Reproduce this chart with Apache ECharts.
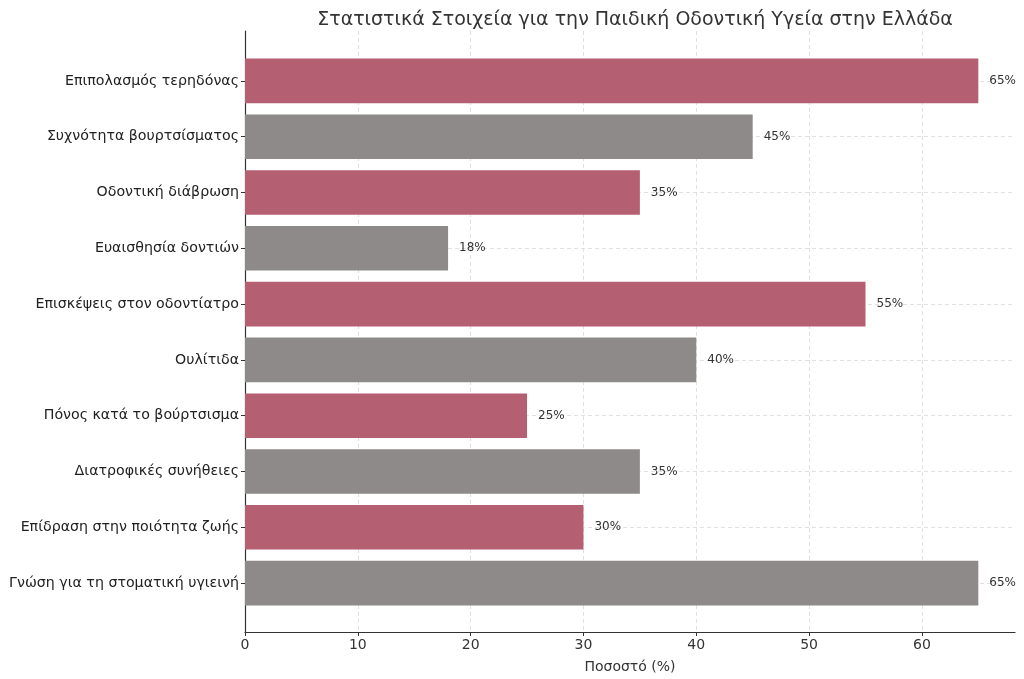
<!DOCTYPE html>
<html><head><meta charset="utf-8">
<script src="https://cdn.jsdelivr.net/npm/echarts@6/dist/echarts.min.js"></script>
<style>html,body{margin:0;padding:0;background:#fff}#c{width:1024px;height:679px}</style>
</head><body><div id="c"></div>
<script>
const categories = [
  'Επιπολασμός τερηδόνας',
  'Συχνότητα βουρτσίσματος',
  'Οδοντική διάβρωση',
  'Ευαισθησία δοντιών',
  'Επισκέψεις στον οδοντίατρο',
  'Ουλίτιδα',
  'Πόνος κατά το βούρτσισμα',
  'Διατροφικές συνήθειες',
  'Επίδραση στην ποιότητα ζωής',
  'Γνώση για τη στοματική υγιεινή'
];
const values = [65, 45, 35, 18, 55, 40, 25, 35, 30, 65];
const barColors = ['#b55f72', '#8f8a8a'];
const xTicks = [0, 10, 20, 30, 40, 50, 60];

const font = 'DejaVu Sans';
const xMax = 68.25;
const chart = echarts.init(document.getElementById('c'));
const grid = {left: 245, right: 9};
chart.setOption({
  animation: false,
  textStyle: {fontFamily: font},
  title: {
    text: 'Στατιστικά Στοιχεία για την Παιδική Οδοντική Υγεία στην Ελλάδα',
    left: 630, textAlign: 'center', top: 6,
    textStyle: {fontFamily: font, fontSize: 19, fontWeight: 'normal', color: '#333'}
  },
  grid: [
    {left: grid.left, right: grid.right, top: 31, bottom: 46},
    {left: grid.left, right: grid.right, top: 53, bottom: 68}
  ],
  xAxis: [
    {
      gridIndex: 0, type: 'value', min: 0, max: xMax, interval: 10,
      name: 'Ποσοστό (%)', nameLocation: 'middle', nameGap: 28,
      nameTextStyle: {fontFamily: font, fontSize: 14, color: '#333'},
      axisLine: {show: true, lineStyle: {color: '#333', width: 1.2}},
      axisTick: {show: true, length: 4, lineStyle: {color: '#333'},
        customValues: xTicks},
      axisLabel: {fontFamily: font, fontSize: 14, color: '#333', margin: 6,
        customValues: xTicks,
        formatter: v => (xTicks.indexOf(v) >= 0 ? String(v) : '')},
      splitLine: {show: true, lineStyle: {color: '#d9d9d9', type: [4, 3], width: 0.8}}
    },
    {
      gridIndex: 1, type: 'value', min: 0, max: xMax,
      axisLine: {show: false}, axisTick: {show: false}, axisLabel: {show: false}, splitLine: {show: false}
    }
  ],
  yAxis: [
    {
      gridIndex: 0, type: 'value', min: 0, max: 1,
      axisLine: {show: true, lineStyle: {color: '#333', width: 1.2}},
      axisTick: {show: false}, axisLabel: {show: false}, splitLine: {show: false}
    },
    {
      gridIndex: 1, type: 'category', data: categories, inverse: true,
      axisLine: {show: false},
      axisTick: {show: true, alignWithLabel: true, length: 4, lineStyle: {color: '#333'}},
      axisLabel: {fontFamily: font, fontSize: 14.2, color: '#222', margin: 6},
      splitLine: {show: true, alignWithLabel: true, lineStyle: {color: '#d9d9d9', type: [4, 3], width: 0.8}}
    }
  ],
  series: [{
    type: 'bar', xAxisIndex: 1, yAxisIndex: 1,
    barWidth: '80%',
    data: values.map((v, i) => ({value: v, itemStyle: {color: barColors[i % 2]}})),
    label: {show: true, position: 'right', distance: 11, formatter: p => p.value + '%',
      fontFamily: font, fontSize: 12, color: '#333'},
    z: 3
  }]
});
</script></body></html>
